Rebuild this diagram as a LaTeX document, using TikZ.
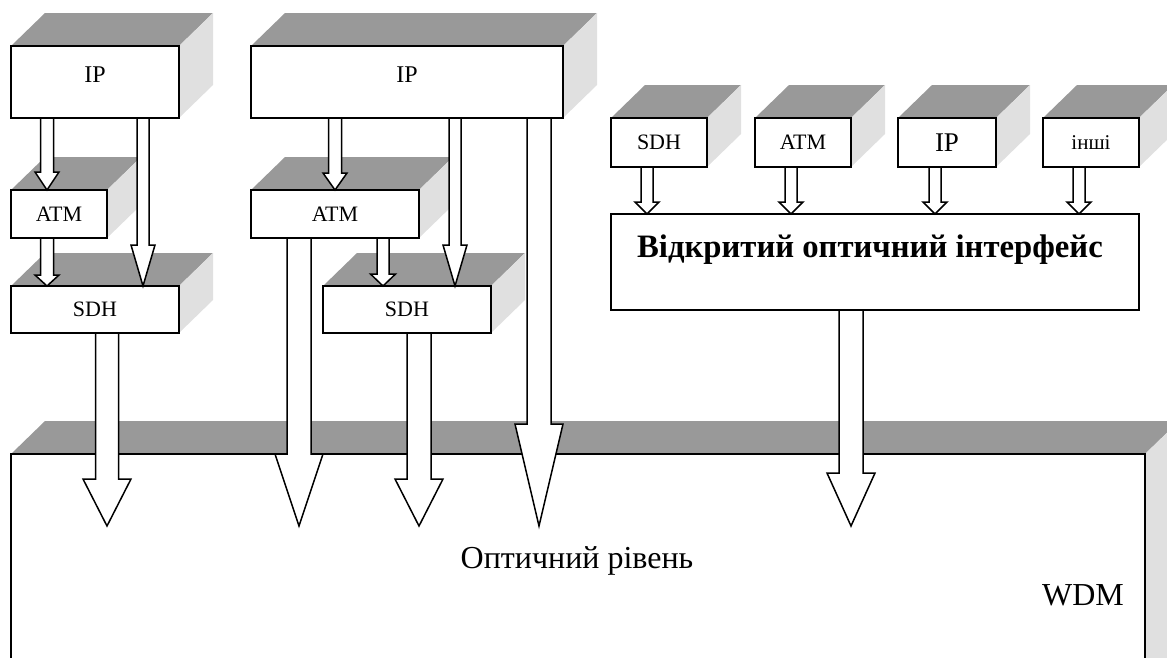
\documentclass[tikz,border=0pt]{standalone}
\usepackage{fontspec}
\setmainfont{Liberation Serif}
\usetikzlibrary{calc,backgrounds}
\definecolor{topgray}{HTML}{999999}
\definecolor{sidegray}{HTML}{E0E0E0}
% block arrow: x, from, to, shaft half width, head half width, head length
\newcommand\barrow[6]{%
  \draw[blockarr] let \p1=(#2), \p2=(#3) in
    (#1pt-#4pt,\y1) -- (#1pt-#4pt,\y2+#6pt) -- (#1pt-#5pt,\y2+#6pt) -- (#1pt,\y2)
    -- (#1pt+#5pt,\y2+#6pt) -- (#1pt+#4pt,\y2+#6pt) -- (#1pt+#4pt,\y1) -- cycle;}
\begin{document}
\begin{tikzpicture}[x=1pt,y=-1pt,line width=1.5pt,
    front/.style={draw,fill=white,inner sep=0pt,outer sep=0pt,align=center},
    small/.style={font=\fontsize{22}{26}\selectfont},
    big/.style={font=\fontsize{32}{38}\selectfont},
    topface/.style={fill=topgray},
    sideface/.style={fill=sidegray},
    blockarr/.style={draw,fill=white,line join=miter}]
  \useasboundingbox (0,0) rectangle (1167,657);

  \node[front,minimum width=1134,minimum height=236] (wdm) at (578,572) {};

  \node[front,minimum width=168,minimum height=72,font=\fontsize{24}{28}\selectfont,text depth=14pt] (ipL) at (95,82) {IP};
  \node[front,small,minimum width=96,minimum height=48]  (atmL) at (59,214) {ATM};
  \node[front,small,minimum width=168,minimum height=47] (sdhL) at (95,309.5) {SDH};

  \node[front,minimum width=312,minimum height=72,font=\fontsize{24}{28}\selectfont,text depth=14pt] (ipM) at (407,82) {IP};
  \node[front,small,minimum width=168,minimum height=48] (atmM) at (335,214) {ATM};
  \node[front,small,minimum width=168,minimum height=47] (sdhM) at (407,309.5) {SDH};

  \node[front,small,minimum width=96,minimum height=49] (sdhR) at (659,142.5) {SDH};
  \node[front,small,minimum width=96,minimum height=49] (atmR) at (803,142.5) {ATM};
  \node[front,minimum width=98,minimum height=49,font=\fontsize{27}{32}\selectfont] (ipR) at (947,142.5) {IP};
  \node[front,minimum width=96,minimum height=49,font=\fontsize{21}{25}\selectfont] (othR) at (1091,142.5) {інші};
  \node[front,minimum width=528,minimum height=96,font=\fontsize{32.7}{38}\selectfont,text height=22pt,text depth=32pt] (oif) at (875,262) {\bfseries Відкритий оптичний інтерфейс\hspace*{10pt}};

  \node[big,anchor=base] (optlbl) at (577,568) {Оптичний рівень};
  \node[big,anchor=base] (wdmlbl) at (1083,605) {WDM};

  \begin{scope}[on background layer]
    \foreach \n in {wdm,ipL,atmL,sdhL,ipM,atmM,sdhM,sdhR,atmR,ipR,othR}{
      \fill[topface] (\n.north west) -- ++(34,-33) -- ([shift={(34,-33)}]\n.north east) -- (\n.north east) -- cycle;
      \fill[sideface] (\n.north east) -- ++(34,-33) -- ([shift={(34,-33)}]\n.south east) -- (\n.south east) -- cycle;
    }
  \end{scope}

  \coordinate (wdmtip) at (0,526);

  \barrow{47}{ipL.south}{atmL.north}{6.5}{12}{18}
  \barrow{143}{ipL.south}{sdhL.north}{6}{12}{41}
  \barrow{47}{atmL.south}{sdhL.north}{6.5}{12}{11}
  \barrow{107}{sdhL.south}{wdmtip}{11.5}{24}{47}

  \barrow{335}{ipM.south}{atmM.north}{6.5}{12}{17}
  \barrow{455}{ipM.south}{sdhM.north}{6}{12}{41}
  \barrow{383}{atmM.south}{sdhM.north}{6}{12.5}{12}
  \barrow{299}{atmM.south}{wdmtip}{12}{24}{72}
  \barrow{419}{sdhM.south}{wdmtip}{12}{24}{47}
  \barrow{539}{ipM.south}{wdmtip}{12}{24}{102}

  \barrow{647}{sdhR.south}{oif.north}{6}{12}{12}
  \barrow{791}{atmR.south}{oif.north}{6}{12}{12}
  \barrow{935}{ipR.south}{oif.north}{6}{12}{12}
  \barrow{1079}{othR.south}{oif.north}{6}{12}{12}
  \barrow{851}{oif.south}{wdmtip}{12}{24}{53}
\end{tikzpicture}
\end{document}
